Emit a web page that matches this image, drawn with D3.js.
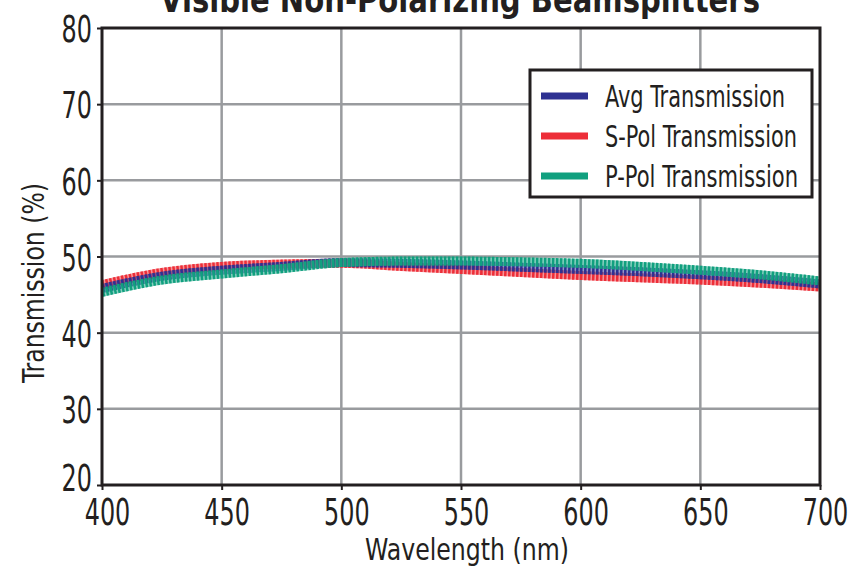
<!DOCTYPE html>
<html lang="en">
<head>
<meta charset="UTF-8">
<title>Visible Non-Polarizing Beamsplitters</title>
<style>
  body { margin: 0; background: #fff; }
  svg text { font-family: "DejaVu Sans Condensed", "Liberation Sans Narrow", sans-serif; fill: #231f20; }
</style>
</head>
<body>
<script src="https://cdn.jsdelivr.net/npm/d3@7/dist/d3.min.js"></script>
<script>
// data
var wavelengths = [400, 425, 450, 475, 500, 525, 550, 575, 600, 625, 650, 675, 700];
var avgT  = [45.8, 47.4, 48.2, 48.7, 49.2, 49.1, 48.9, 48.6, 48.3, 48.0, 47.6, 47.1, 46.4];
var sPolT = [46.3, 47.9, 48.7, 49.0, 49.1, 48.7, 48.3, 47.9, 47.5, 47.2, 46.9, 46.5, 46.0];
var pPolT = [45.3, 46.9, 47.7, 48.4, 49.2, 49.4, 49.4, 49.3, 49.1, 48.7, 48.2, 47.6, 46.8];
var xTicks = [400, 450, 500, 550, 600, 650, 700];
var yTicks = [20, 30, 40, 50, 60, 70, 80];
var seriesNames = ["Avg Transmission", "S-Pol Transmission", "P-Pol Transmission"];
var seriesColors = ["#2e3192", "#ed2e38", "#11a07f"];

var width = 852, height = 582;
var margin = {top: 28, left: 102, right: 32, bottom: 97};

var svg = d3.select('body').append('svg')
    .attr('width', width)
    .attr('height', height);

var xScale = d3.scaleLinear()
    .domain([400, 700])
    .range([margin.left, width - margin.right]);
var yScale = d3.scaleLinear()
    .domain([20, 80])
    .range([height - margin.bottom, margin.top]);

// squeeze text to the narrow look of the original
function narrow(sel, perChar) {
  sel.attr('lengthAdjust', 'spacingAndGlyphs')
     .attr('textLength', function() { return this.textContent.length * perChar; });
}

// title, clipped by the top edge like the reference
svg.append('text')
    .attr('x', 460)
    .attr('y', 12)
    .attr('text-anchor', 'middle')
    .attr('font-size', '36px')
    .attr('font-weight', 'bold')
    .attr('lengthAdjust', 'spacingAndGlyphs')
    .attr('textLength', 600)
    .text('Visible Non-Polarizing Beamsplitters');

// grid
svg.append('g').selectAll('line')
    .data(xTicks.slice(1, -1))
    .enter().append('line')
    .attr('x1', function(d) { return xScale(d); })
    .attr('x2', function(d) { return xScale(d); })
    .attr('y1', yScale(80))
    .attr('y2', yScale(20))
    .attr('stroke', '#999b9e')
    .attr('stroke-width', 2.5);
svg.append('g').selectAll('line')
    .data(yTicks.slice(1, -1))
    .enter().append('line')
    .attr('x1', xScale(400))
    .attr('x2', xScale(700))
    .attr('y1', function(d) { return yScale(d); })
    .attr('y2', function(d) { return yScale(d); })
    .attr('stroke', '#999b9e')
    .attr('stroke-width', 2.5);

// lines
var line = d3.line()
    .x(function(d) { return xScale(d[0]); })
    .y(function(d) { return yScale(d[1]); })
    .curve(d3.curveMonotoneX);

var series = [avgT, sPolT, pPolT];
var drawOrder = [1, 0, 2];
drawOrder.forEach(function(k) {
  var pts = wavelengths.map(function(w, i) { return [w, series[k][i]]; });
  svg.append('path')
      .attr('d', line(pts))
      .attr('fill', 'none')
      .attr('stroke', seriesColors[k])
      .attr('stroke-opacity', 0.5)
      .attr('stroke-width', 9);
  svg.append('path')
      .attr('d', line(pts))
      .attr('fill', 'none')
      .attr('stroke', seriesColors[k])
      .attr('stroke-width', 9)
      .attr('stroke-dasharray', '2.5,1.5');
});

// axes
var xAxis = d3.axisBottom(xScale).tickValues(xTicks).tickSize(5).tickPadding(7);
var yAxis = d3.axisLeft(yScale).tickValues(yTicks).tickSize(5).tickPadding(5);

var gx = svg.append('g')
    .attr('transform', 'translate(0,' + yScale(20) + ')')
    .call(xAxis);
var gy = svg.append('g')
    .attr('transform', 'translate(' + xScale(400) + ',0)')
    .call(yAxis);
[gx, gy].forEach(function(g) {
  g.select('.domain').remove();
  g.selectAll('line').attr('stroke', '#231f20').attr('stroke-width', 2);
  g.selectAll('text').attr('font-size', '38px').attr('fill', '#231f20').call(narrow, 15.2);
});
gx.selectAll('text').attr('dy', '0.74em').attr('dx', 5);
gy.selectAll('text').attr('dy', function(d) { return d === 20 ? '0.14em' : '0.36em'; });

// plot frame
svg.append('rect')
    .attr('x', xScale(400))
    .attr('y', yScale(80))
    .attr('width', xScale(700) - xScale(400))
    .attr('height', yScale(20) - yScale(80))
    .attr('fill', 'none')
    .attr('stroke', '#231f20')
    .attr('stroke-width', 3);

// axis titles
svg.append('text')
    .attr('x', (xScale(400) + xScale(700)) / 2 + 6)
    .attr('y', 560)
    .attr('text-anchor', 'middle')
    .attr('font-size', '30px')
    .attr('lengthAdjust', 'spacingAndGlyphs')
    .attr('textLength', 204)
    .text('Wavelength (nm)');
svg.append('text')
    .attr('transform', 'translate(44,283) rotate(-90)')
    .attr('text-anchor', 'middle')
    .attr('font-size', '30px')
    .attr('lengthAdjust', 'spacingAndGlyphs')
    .attr('textLength', 200)
    .text('Transmission (%)');

// legend
var legend = svg.append('g').attr('transform', 'translate(530,70)');
legend.append('rect')
    .attr('width', 282)
    .attr('height', 127)
    .attr('fill', '#fff')
    .attr('stroke', '#231f20')
    .attr('stroke-width', 3);
var legendWidths = [180, 192, 193];
seriesNames.forEach(function(name, i) {
  var yy = 26 + i * 40;
  legend.append('line')
      .attr('x1', 11).attr('x2', 58)
      .attr('y1', yy).attr('y2', yy)
      .attr('stroke', seriesColors[i])
      .attr('stroke-width', 7);
  legend.append('text')
      .attr('x', 75)
      .attr('y', yy + 11)
      .attr('font-size', '30px')
      .attr('lengthAdjust', 'spacingAndGlyphs')
      .attr('textLength', legendWidths[i])
      .text(name);
});
</script>
</body>
</html>
